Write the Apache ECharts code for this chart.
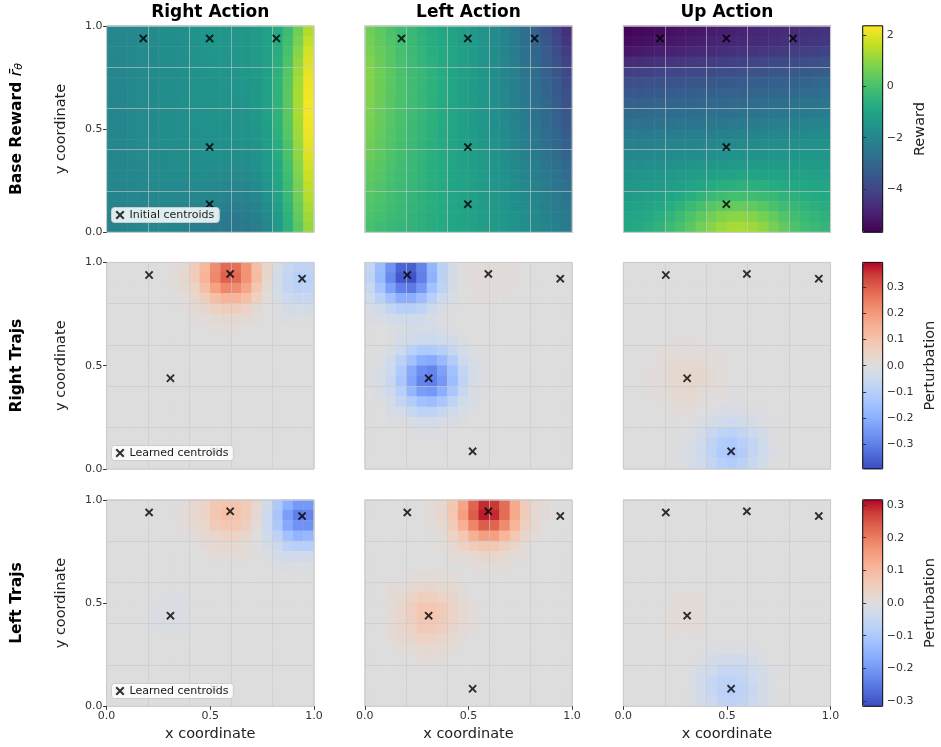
<!DOCTYPE html>
<html>
<head>
<meta charset="utf-8">
<script src="https://cdn.jsdelivr.net/npm/echarts@6/dist/echarts.min.js"></script>
<style>html,body{margin:0;padding:0;background:#fff}#c{width:941px;height:747px}</style>
</head>
<body>
<div id="c"></div>
<script>
// ---------------- DATA ----------------
const columnTitles = ['Right Action', 'Left Action', 'Up Action'];
const rowTitles = ['Base Reward', 'Right Trajs', 'Left Trajs'];
const axisTickValues = [0, 0.5, 1.0];
const rewardTickValues = [-4, -2, 0, 2];
const perturbationTickValues = [-0.3, -0.2, -0.1, 0, 0.1, 0.2, 0.3];
const rewardRange = [-5.69, 2.36];
const rightTrajsRange = [-0.393, 0.393];
const leftTrajsRange = [-0.316, 0.316];

const initialCentroidsX = [0.177, 0.497, 0.819, 0.497, 0.497];
const initialCentroidsY = [0.939, 0.939, 0.939, 0.413, 0.136];
const learnedCentroidsX = [0.205, 0.596, 0.943, 0.308, 0.520];
const learnedCentroidsY = [0.939, 0.944, 0.921, 0.439, 0.085];

// 20 x 20 cell values, rows listed from top (y=0.975) to bottom (y=0.025),
// columns from left (x=0.025) to right (x=0.975)
const rewardRightAction = [
[-1.95,-1.95,-1.95,-1.9,-1.85,-1.8,-1.75,-1.7,-1.6,-1.55,-1.5,-1.5,-1.5,-1.45,-1.35,-1.15,-0.8,-0.2,0.6,1.4],
[-1.95,-1.95,-1.95,-1.9,-1.85,-1.8,-1.75,-1.7,-1.6,-1.55,-1.5,-1.5,-1.5,-1.45,-1.35,-1.1,-0.75,-0.1,0.75,1.6],
[-1.95,-1.95,-1.95,-1.9,-1.85,-1.8,-1.75,-1.7,-1.6,-1.55,-1.5,-1.5,-1.5,-1.45,-1.35,-1.1,-0.7,0.0,0.9,1.8],
[-2.0,-1.95,-1.95,-1.9,-1.85,-1.8,-1.75,-1.7,-1.6,-1.55,-1.55,-1.55,-1.5,-1.45,-1.35,-1.1,-0.65,0.1,1.05,1.95],
[-2.0,-2.0,-1.95,-1.9,-1.85,-1.8,-1.75,-1.7,-1.65,-1.6,-1.55,-1.55,-1.55,-1.5,-1.35,-1.1,-0.6,0.2,1.15,2.05],
[-2.0,-2.0,-1.95,-1.9,-1.85,-1.8,-1.75,-1.7,-1.65,-1.6,-1.6,-1.55,-1.55,-1.5,-1.4,-1.1,-0.55,0.25,1.25,2.15],
[-2.0,-2.0,-1.95,-1.9,-1.85,-1.8,-1.75,-1.7,-1.65,-1.6,-1.6,-1.6,-1.55,-1.55,-1.4,-1.1,-0.5,0.3,1.3,2.2],
[-2.0,-2.0,-1.95,-1.9,-1.85,-1.8,-1.75,-1.7,-1.65,-1.6,-1.6,-1.6,-1.6,-1.55,-1.4,-1.1,-0.5,0.3,1.3,2.25],
[-2.0,-2.0,-1.95,-1.9,-1.85,-1.8,-1.75,-1.7,-1.65,-1.6,-1.6,-1.6,-1.6,-1.55,-1.4,-1.1,-0.5,0.3,1.3,2.25],
[-2.0,-2.0,-1.95,-1.9,-1.85,-1.8,-1.75,-1.7,-1.65,-1.65,-1.65,-1.65,-1.65,-1.6,-1.45,-1.15,-0.55,0.25,1.25,2.2],
[-2.0,-2.0,-1.95,-1.9,-1.85,-1.8,-1.75,-1.7,-1.7,-1.65,-1.65,-1.65,-1.65,-1.6,-1.5,-1.2,-0.6,0.2,1.2,2.15],
[-2.0,-2.0,-1.95,-1.9,-1.85,-1.8,-1.75,-1.75,-1.7,-1.7,-1.7,-1.7,-1.7,-1.65,-1.55,-1.25,-0.7,0.1,1.1,2.05],
[-2.0,-2.0,-1.95,-1.9,-1.85,-1.85,-1.8,-1.75,-1.75,-1.7,-1.7,-1.75,-1.75,-1.75,-1.6,-1.3,-0.75,0.05,1.0,1.95],
[-2.0,-2.0,-2.0,-1.95,-1.9,-1.85,-1.8,-1.8,-1.8,-1.75,-1.75,-1.8,-1.8,-1.8,-1.65,-1.35,-0.85,-0.05,0.9,1.8],
[-2.0,-2.0,-2.0,-1.95,-1.9,-1.85,-1.85,-1.85,-1.85,-1.8,-1.85,-1.9,-1.9,-1.9,-1.75,-1.45,-0.9,-0.15,0.8,1.7],
[-2.0,-2.0,-2.0,-1.95,-1.95,-1.9,-1.9,-1.9,-1.9,-1.9,-1.95,-2.0,-2.0,-2.0,-1.85,-1.55,-1.0,-0.25,0.7,1.55],
[-2.05,-2.05,-2.0,-2.0,-1.95,-1.95,-1.95,-1.95,-2.0,-2.0,-2.05,-2.1,-2.15,-2.1,-1.95,-1.65,-1.1,-0.35,0.6,1.45],
[-2.05,-2.05,-2.05,-2.0,-2.0,-2.0,-2.0,-2.0,-2.05,-2.1,-2.2,-2.25,-2.3,-2.25,-2.1,-1.75,-1.2,-0.45,0.5,1.3],
[-2.1,-2.1,-2.05,-2.0,-2.0,-2.0,-2.0,-2.05,-2.15,-2.2,-2.3,-2.4,-2.4,-2.35,-2.2,-1.9,-1.3,-0.55,0.4,1.2],
[-2.1,-2.1,-2.05,-2.0,-2.0,-2.0,-2.05,-2.1,-2.2,-2.3,-2.4,-2.5,-2.5,-2.45,-2.3,-2.0,-1.4,-0.6,0.3,1.1]
];
const rewardLeftAction = [
[0.6,0.35,0.1,-0.15,-0.35,-0.55,-0.75,-0.9,-1.05,-1.25,-1.4,-1.6,-1.85,-2.1,-2.45,-2.8,-3.2,-3.6,-4.1,-4.6],
[0.65,0.4,0.15,-0.1,-0.3,-0.5,-0.7,-0.85,-1.0,-1.2,-1.35,-1.57,-1.82,-2.08,-2.4,-2.75,-3.12,-3.5,-3.95,-4.45],
[0.72,0.45,0.2,-0.05,-0.25,-0.45,-0.65,-0.82,-1.0,-1.18,-1.33,-1.55,-1.8,-2.05,-2.35,-2.68,-3.03,-3.4,-3.8,-4.25],
[0.8,0.5,0.25,0.0,-0.2,-0.4,-0.6,-0.78,-0.97,-1.16,-1.31,-1.52,-1.77,-2.02,-2.3,-2.6,-2.94,-3.3,-3.67,-4.1],
[0.85,0.55,0.3,0.05,-0.15,-0.35,-0.55,-0.75,-0.95,-1.15,-1.3,-1.5,-1.75,-2.0,-2.25,-2.55,-2.85,-3.2,-3.55,-3.95],
[0.85,0.55,0.3,0.05,-0.15,-0.35,-0.55,-0.76,-0.96,-1.15,-1.3,-1.5,-1.74,-1.98,-2.22,-2.5,-2.8,-3.13,-3.46,-3.84],
[0.82,0.53,0.28,0.04,-0.16,-0.36,-0.56,-0.77,-0.97,-1.15,-1.3,-1.5,-1.73,-1.96,-2.2,-2.47,-2.75,-3.06,-3.37,-3.73],
[0.8,0.51,0.26,0.03,-0.17,-0.37,-0.57,-0.78,-0.98,-1.15,-1.3,-1.5,-1.72,-1.94,-2.17,-2.43,-2.7,-3.0,-3.29,-3.62],
[0.76,0.49,0.24,0.02,-0.18,-0.38,-0.58,-0.79,-0.99,-1.15,-1.3,-1.5,-1.71,-1.92,-2.14,-2.4,-2.65,-2.93,-3.2,-3.51],
[0.72,0.47,0.22,0.01,-0.19,-0.39,-0.59,-0.8,-1.0,-1.15,-1.3,-1.5,-1.7,-1.9,-2.12,-2.37,-2.62,-2.89,-3.15,-3.45],
[0.68,0.43,0.19,-0.02,-0.22,-0.41,-0.61,-0.8,-1.0,-1.14,-1.29,-1.48,-1.67,-1.87,-2.07,-2.31,-2.55,-2.8,-3.05,-3.34],
[0.6,0.38,0.15,-0.05,-0.25,-0.43,-0.62,-0.8,-0.99,-1.13,-1.27,-1.45,-1.63,-1.82,-2.02,-2.24,-2.47,-2.71,-2.95,-3.22],
[0.52,0.32,0.1,-0.09,-0.28,-0.45,-0.63,-0.8,-0.98,-1.12,-1.26,-1.42,-1.6,-1.78,-1.97,-2.17,-2.39,-2.62,-2.85,-3.1],
[0.44,0.26,0.05,-0.13,-0.31,-0.47,-0.64,-0.8,-0.97,-1.1,-1.24,-1.39,-1.56,-1.73,-1.92,-2.11,-2.32,-2.53,-2.74,-2.98],
[0.36,0.2,0.01,-0.17,-0.34,-0.49,-0.65,-0.8,-0.96,-1.09,-1.22,-1.36,-1.52,-1.68,-1.86,-2.04,-2.24,-2.44,-2.64,-2.86],
[0.29,0.14,-0.04,-0.21,-0.37,-0.51,-0.66,-0.8,-0.95,-1.07,-1.2,-1.33,-1.48,-1.63,-1.8,-1.97,-2.16,-2.35,-2.54,-2.74],
[0.22,0.08,-0.09,-0.25,-0.4,-0.53,-0.67,-0.8,-0.94,-1.05,-1.17,-1.3,-1.44,-1.59,-1.75,-1.91,-2.08,-2.26,-2.44,-2.62],
[0.15,0.02,-0.14,-0.29,-0.43,-0.55,-0.68,-0.8,-0.93,-1.04,-1.15,-1.27,-1.4,-1.54,-1.69,-1.84,-2.0,-2.17,-2.33,-2.5],
[0.08,-0.07,-0.22,-0.34,-0.46,-0.57,-0.69,-0.8,-0.91,-1.02,-1.12,-1.23,-1.35,-1.49,-1.64,-1.79,-1.95,-2.11,-2.27,-2.43],
[0.0,-0.15,-0.3,-0.4,-0.5,-0.6,-0.7,-0.8,-0.9,-1.0,-1.1,-1.2,-1.3,-1.45,-1.6,-1.75,-1.9,-2.05,-2.2,-2.35]
];
const rewardUpAction = [
[-5.6,-5.54,-5.47,-5.41,-5.35,-5.28,-5.22,-5.16,-5.09,-5.03,-4.97,-4.92,-4.87,-4.81,-4.76,-4.71,-4.66,-4.61,-4.55,-4.5],
[-5.45,-5.39,-5.32,-5.26,-5.2,-5.13,-5.07,-5.01,-4.94,-4.88,-4.83,-4.78,-4.73,-4.69,-4.64,-4.59,-4.54,-4.5,-4.45,-4.4],
[-5.2,-5.14,-5.07,-5.01,-4.95,-4.88,-4.82,-4.76,-4.69,-4.63,-4.57,-4.52,-4.47,-4.41,-4.36,-4.31,-4.26,-4.21,-4.15,-4.1],
[-4.7,-4.65,-4.59,-4.54,-4.49,-4.44,-4.38,-4.33,-4.28,-4.23,-4.17,-4.12,-4.07,-4.01,-3.96,-3.91,-3.86,-3.81,-3.75,-3.7],
[-4.2,-4.16,-4.12,-4.07,-4.03,-3.99,-3.95,-3.91,-3.86,-3.82,-3.77,-3.72,-3.67,-3.61,-3.56,-3.51,-3.46,-3.41,-3.35,-3.3],
[-3.8,-3.76,-3.73,-3.69,-3.65,-3.62,-3.58,-3.54,-3.51,-3.47,-3.43,-3.38,-3.33,-3.29,-3.24,-3.19,-3.14,-3.1,-3.05,-3.0],
[-3.5,-3.47,-3.44,-3.41,-3.37,-3.34,-3.31,-3.28,-3.25,-3.22,-3.18,-3.14,-3.1,-3.05,-3.01,-2.97,-2.93,-2.89,-2.84,-2.8],
[-3.2,-3.17,-3.15,-3.12,-3.09,-3.07,-3.04,-3.02,-2.99,-2.96,-2.93,-2.89,-2.85,-2.8,-2.76,-2.72,-2.68,-2.64,-2.59,-2.55],
[-2.95,-2.92,-2.9,-2.87,-2.84,-2.82,-2.79,-2.77,-2.74,-2.71,-2.68,-2.64,-2.6,-2.55,-2.51,-2.47,-2.43,-2.39,-2.34,-2.3],
[-2.7,-2.67,-2.65,-2.62,-2.59,-2.57,-2.54,-2.52,-2.49,-2.46,-2.43,-2.39,-2.35,-2.3,-2.26,-2.22,-2.18,-2.14,-2.09,-2.05],
[-2.45,-2.42,-2.4,-2.37,-2.34,-2.32,-2.29,-2.27,-2.24,-2.21,-2.18,-2.15,-2.11,-2.07,-2.03,-2.0,-1.96,-1.92,-1.89,-1.85],
[-2.2,-2.17,-2.15,-2.12,-2.09,-2.07,-2.04,-2.02,-1.99,-1.96,-1.93,-1.9,-1.87,-1.84,-1.8,-1.77,-1.74,-1.71,-1.68,-1.65],
[-2.0,-1.97,-1.94,-1.9,-1.87,-1.84,-1.81,-1.78,-1.74,-1.71,-1.68,-1.66,-1.63,-1.6,-1.57,-1.55,-1.52,-1.5,-1.47,-1.45],
[-1.8,-1.77,-1.73,-1.69,-1.65,-1.6,-1.55,-1.5,-1.45,-1.41,-1.38,-1.36,-1.35,-1.35,-1.34,-1.33,-1.32,-1.31,-1.3,-1.3],
[-1.6,-1.57,-1.53,-1.48,-1.42,-1.36,-1.29,-1.21,-1.13,-1.06,-1.02,-1.0,-1.0,-1.02,-1.05,-1.08,-1.1,-1.12,-1.14,-1.15],
[-1.45,-1.41,-1.36,-1.3,-1.22,-1.13,-1.02,-0.9,-0.78,-0.68,-0.62,-0.6,-0.62,-0.67,-0.74,-0.81,-0.87,-0.92,-0.96,-1.0],
[-1.3,-1.25,-1.18,-1.09,-0.97,-0.83,-0.66,-0.48,-0.3,-0.17,-0.1,-0.1,-0.14,-0.23,-0.35,-0.48,-0.6,-0.7,-0.78,-0.85],
[-1.15,-1.08,-0.99,-0.86,-0.7,-0.5,-0.27,-0.02,0.2,0.36,0.45,0.45,0.38,0.24,0.05,-0.15,-0.33,-0.48,-0.6,-0.7],
[-1.0,-0.92,-0.81,-0.65,-0.45,-0.21,0.07,0.36,0.63,0.83,0.94,0.95,0.86,0.68,0.44,0.17,-0.08,-0.28,-0.43,-0.55],
[-0.9,-0.81,-0.68,-0.5,-0.27,0.0,0.3,0.62,0.92,1.15,1.28,1.3,1.2,0.99,0.71,0.4,0.1,-0.14,-0.3,-0.4]
];
const rightTrajsRightAction = [
[0,0,0,0,0,0,0.01,0.02,0.07,0.13,0.22,0.28,0.27,0.21,0.11,0.04,-0.02,-0.06,-0.08,-0.08],
[0,0,0,0,0,0,0.01,0.03,0.07,0.14,0.23,0.29,0.28,0.21,0.12,0.03,-0.03,-0.07,-0.10,-0.09],
[0,0,0,0,0,0,0.01,0.02,0.05,0.11,0.18,0.23,0.22,0.17,0.09,0.02,-0.03,-0.07,-0.09,-0.08],
[0,0,0,0,0,0,0,0.01,0.03,0.07,0.11,0.14,0.14,0.11,0.06,0.01,-0.02,-0.05,-0.06,-0.06],
[0,0,0,0,0,0,0,0.01,0.02,0.03,0.06,0.07,0.07,0.05,0.02,0,-0.01,-0.03,-0.03,-0.03],
[0,0,0,0,0,0,0,0,0.01,0.01,0.02,0.03,0.03,0.02,0.01,0,-0.01,-0.01,-0.01,-0.01],
[0,0,0,0,0,0,0,0,0,0,0.01,0.01,0.01,0,0,0,0,0,0,0],
[0,0,0,0,0,0,0,0,0,0,0,0,0,0,0,0,0,0,0,0],
[0,0,0,0,0,0,0,0,0,0,0,0,0,0,0,0,0,0,0,0],
[0,0,0,0,0,0,0,0,0,0,0,0,0,0,0,0,0,0,0,0],
[0,0,0,0,0,0,0,0,0,0,0,0,0,0,0,0,0,0,0,0],
[0,0,0,0,0,0,0,0,0,0,0,0,0,0,0,0,0,0,0,0],
[0,0,0,0,0,0,0,0,0,0,0,0,0,0,0,0,0,0,0,0],
[0,0,0,0,0,0,0,0,0,0,0,0,0,0,0,0,0,0,0,0],
[0,0,0,0,0,0,0,0,0,0,0,0,0,0,0,0,0,0,0,0],
[0,0,0,0,0,0,0,0,0,0,0,0,0,0,0,0,0,0,0,0],
[0,0,0,0,0,0,0,0,0,0,0,0,0,0,0,0,0,0,0,0],
[0,0,0,0,0,0,0,0,0,0,0,0,0,0,0,0,0,0,0,0],
[0,0,0,0,0,0,0,0,0,0,0,0,0,0,0,0,0,0,0,0],
[0,0,0,0,0,0,0,0,0,0,0,0,0,0,0,0,0,0,0,0]
];
const rightTrajsLeftAction = [
[-0.07,-0.16,-0.26,-0.35,-0.36,-0.29,-0.18,-0.09,-0.03,0,0.01,0.01,0.01,0.01,0.01,0,0,0,0,0],
[-0.08,-0.17,-0.28,-0.37,-0.38,-0.30,-0.19,-0.09,-0.03,0,0.01,0.01,0.01,0.01,0.01,0,0,0,0,0],
[-0.06,-0.14,-0.23,-0.30,-0.31,-0.25,-0.15,-0.08,-0.03,0,0.01,0.01,0.01,0.01,0,0,0,0,0,0],
[-0.04,-0.09,-0.15,-0.20,-0.20,-0.16,-0.10,-0.05,-0.02,0,0.01,0.01,0.01,0,0,0,0,0,0,0],
[-0.02,-0.04,-0.07,-0.10,-0.10,-0.08,-0.05,-0.02,-0.01,0,0,0,0,0,0,0,0,0,0,0],
[-0.01,-0.02,-0.03,-0.04,-0.04,-0.04,-0.02,-0.01,0,0,0,0,0,0,0,0,0,0,0,0],
[0,0,-0.01,-0.02,-0.03,-0.03,-0.03,-0.02,-0.01,0,0,0,0,0,0,0,0,0,0,0],
[0,0,-0.01,-0.03,-0.04,-0.05,-0.05,-0.04,-0.03,-0.01,0,0,0,0,0,0,0,0,0,0],
[0,-0.01,-0.02,-0.05,-0.09,-0.12,-0.12,-0.10,-0.06,-0.03,-0.01,0,0,0,0,0,0,0,0,0],
[0,-0.01,-0.04,-0.09,-0.15,-0.20,-0.21,-0.17,-0.11,-0.05,-0.02,-0.01,0,0,0,0,0,0,0,0],
[-0.01,-0.02,-0.05,-0.12,-0.21,-0.27,-0.29,-0.23,-0.15,-0.07,-0.03,-0.01,0,0,0,0,0,0,0,0],
[-0.01,-0.02,-0.06,-0.13,-0.22,-0.29,-0.30,-0.25,-0.16,-0.08,-0.03,-0.01,0,0,0,0,0,0,0,0],
[0,-0.02,-0.05,-0.10,-0.18,-0.24,-0.25,-0.20,-0.13,-0.06,-0.02,-0.01,0,0,0,0,0,0,0,0],
[0,-0.01,-0.03,-0.07,-0.11,-0.15,-0.16,-0.13,-0.08,-0.04,-0.02,0,0,0,0,0,0,0,0,0],
[0,0,-0.02,-0.03,-0.06,-0.08,-0.08,-0.06,-0.04,-0.02,-0.01,0,0,0,0,0,0,0,0,0],
[0,0,-0.01,-0.01,-0.02,-0.03,-0.03,-0.02,-0.02,-0.01,0,0,0,0,0,0,0,0,0,0],
[0,0,0,0,-0.01,-0.01,-0.01,-0.01,0,0,0,0,0,0,0,0,0,0,0,0],
[0,0,0,0,0,0,0,0,0,0,0,0,0,0,0,0,0,0,0,0],
[0,0,0,0,0,0,0,0,0,0,0,0,0,0,0,0,0,0,0,0],
[0,0,0,0,0,0,0,0,0,0,0,0,0,0,0,0,0,0,0,0]
];
const rightTrajsUpAction = [
[0,0,0,0,0,0,0,0,0,0,0,0,0,0,0,0,0,0,0,0],
[0,0,0,0,0,0,0,0,0,0,0,0,0,0,0,0,0,0,0,0],
[0,0,0,0,0,0,0,0,0,0,0,0,0,0,0,0,0,0,0,0],
[0,0,0,0,0,0,0,0,0,0,0,0,0,0,0,0,0,0,0,0],
[0,0,0,0,0,0,0,0,0,0,0,0,0,0,0,0,0,0,0,0],
[0,0,0,0,0,0,0,0,0,0,0,0,0,0,0,0,0,0,0,0],
[0,0,0,0,0,0,0,0,0,0,0,0,0,0,0,0,0,0,0,0],
[0,0,0,0,0,0.01,0.01,0,0,0,0,0,0,0,0,0,0,0,0,0],
[0,0,0,0.01,0.01,0.01,0.01,0.01,0.01,0,0,0,0,0,0,0,0,0,0,0],
[0,0,0,0.01,0.02,0.02,0.02,0.02,0.01,0.01,0,0,0,0,0,0,0,0,0,0],
[0,0,0.01,0.01,0.02,0.03,0.03,0.03,0.02,0.01,0,0,0,0,0,0,0,0,0,0],
[0,0,0.01,0.01,0.02,0.03,0.03,0.03,0.02,0.01,0,0,0,0,0,0,0,0,0,0],
[0,0,0.01,0.01,0.02,0.03,0.03,0.02,0.01,0.01,0,0,0,0,0,0,0,0,0,0],
[0,0,0,0.01,0.01,0.02,0.02,0.01,0,0,-0.01,-0.01,0,0,0,0,0,0,0,0],
[0,0,0,0,0.01,0.01,0.01,0,-0.01,-0.02,-0.02,-0.02,-0.01,-0.01,0,0,0,0,0,0],
[0,0,0,0,0,0,0,-0.02,-0.03,-0.04,-0.05,-0.04,-0.03,-0.01,-0.01,0,0,0,0,0],
[0,0,0,0,0,0,-0.01,-0.03,-0.06,-0.08,-0.09,-0.07,-0.05,-0.03,-0.01,0,0,0,0,0],
[0,0,0,0,0,-0.01,-0.02,-0.04,-0.08,-0.11,-0.12,-0.10,-0.07,-0.04,-0.01,0,0,0,0,0],
[0,0,0,0,0,-0.01,-0.02,-0.05,-0.08,-0.12,-0.13,-0.11,-0.07,-0.04,-0.02,-0.01,0,0,0,0],
[0,0,0,0,0,-0.01,-0.02,-0.04,-0.07,-0.10,-0.11,-0.09,-0.06,-0.03,-0.01,0,0,0,0,0]
];
const leftTrajsRightAction = [
[0,0,0,0,0,0,0,0.01,0.02,0.04,0.07,0.08,0.08,0.06,0.02,-0.03,-0.10,-0.16,-0.20,-0.20],
[0,0,0,0,0,0,0,0.01,0.02,0.04,0.07,0.09,0.08,0.06,0.02,-0.04,-0.11,-0.19,-0.24,-0.23],
[0,0,0,0,0,0,0,0.01,0.02,0.03,0.06,0.07,0.07,0.05,0.01,-0.04,-0.10,-0.17,-0.21,-0.21],
[0,0,0,0,0,0,0,0,0.01,0.02,0.03,0.04,0.04,0.03,0,-0.03,-0.07,-0.12,-0.15,-0.14],
[0,0,0,0,0,0,0,0,0,0.01,0.02,0.02,0.02,0.01,0,-0.02,-0.04,-0.07,-0.08,-0.08],
[0,0,0,0,0,0,0,0,0,0,0.01,0.01,0.01,0.01,0,-0.01,-0.02,-0.03,-0.03,-0.03],
[0,0,0,0,0,0,0,0,0,0,0,0,0,0,0,0,-0.01,-0.01,-0.01,-0.01],
[0,0,0,0,0,0,0,0,0,0,0,0,0,0,0,0,0,0,0,0],
[0,0,0,0,0,0,0,0,0,0,0,0,0,0,0,0,0,0,0,0],
[0,0,0,0,0,-0.01,-0.01,-0.01,0,0,0,0,0,0,0,0,0,0,0,0],
[0,0,0,0,-0.01,-0.01,-0.01,-0.01,0,0,0,0,0,0,0,0,0,0,0,0],
[0,0,0,0,-0.01,-0.01,-0.01,-0.01,0,0,0,0,0,0,0,0,0,0,0,0],
[0,0,0,0,-0.01,-0.01,-0.01,-0.01,0,0,0,0,0,0,0,0,0,0,0,0],
[0,0,0,0,0,0,0,0,0,0,0,0,0,0,0,0,0,0,0,0],
[0,0,0,0,0,0,0,0,0,0,0,0,0,0,0,0,0,0,0,0],
[0,0,0,0,0,0,0,0,0,0,0,0,0,0,0,0,0,0,0,0],
[0,0,0,0,0,0,0,0,0,0,0,0,0,0,0,0,0,0,0,0],
[0,0,0,0,0,0,0,0,0,0,0,0,0,0,0,0,0,0,0,0],
[0,0,0,0,0,0,0,0,0,0,0,0,0,0,0,0,0,0,0,0],
[0,0,0,0,0,0,0,0,0,0,0,0,0,0,0,0,0,0,0,0]
];
const leftTrajsLeftAction = [
[0,0,0,0,0,0,0.01,0.03,0.07,0.14,0.23,0.29,0.28,0.22,0.13,0.06,0.02,0.01,0,0],
[0,0,0,0,0,0,0.01,0.03,0.07,0.15,0.24,0.30,0.29,0.22,0.13,0.06,0.02,0.01,0,0],
[0,0,0,0,0,0,0.01,0.02,0.06,0.12,0.19,0.24,0.23,0.18,0.11,0.05,0.02,0,0,0],
[0,0,0,0,0,0,0,0.01,0.04,0.07,0.12,0.15,0.15,0.11,0.07,0.03,0.01,0,0,0],
[0,0,0,0,0,0,0,0.01,0.02,0.04,0.06,0.07,0.07,0.05,0.03,0.01,0,0,0,0],
[0,0,0,0,0,0,0,0,0.01,0.01,0.02,0.03,0.03,0.02,0.01,0.01,0,0,0,0],
[0,0,0,0,0,0,0,0,0,0,0.01,0.01,0.01,0.01,0,0,0,0,0,0],
[0,0,0,0,0.01,0.01,0.01,0.01,0.01,0,0,0,0,0,0,0,0,0,0,0],
[0,0,0.01,0.01,0.02,0.03,0.03,0.02,0.02,0.01,0,0,0,0,0,0,0,0,0,0],
[0,0,0.01,0.02,0.04,0.05,0.05,0.04,0.03,0.01,0,0,0,0,0,0,0,0,0,0],
[0,0,0.01,0.03,0.05,0.07,0.07,0.06,0.04,0.02,0.01,0,0,0,0,0,0,0,0,0],
[0,0,0.01,0.03,0.05,0.07,0.07,0.06,0.04,0.02,0.01,0,0,0,0,0,0,0,0,0],
[0,0,0.01,0.03,0.04,0.06,0.06,0.05,0.03,0.01,0.01,0,0,0,0,0,0,0,0,0],
[0,0,0.01,0.02,0.03,0.04,0.04,0.03,0.02,0.01,0,0,0,0,0,0,0,0,0,0],
[0,0,0,0.01,0.01,0.02,0.02,0.02,0.01,0,0,0,0,0,0,0,0,0,0,0],
[0,0,0,0,0,0.01,0.01,0.01,0,0,0,0,0,0,0,0,0,0,0,0],
[0,0,0,0,0,0,0,0,0,0,0,0,0,0,0,0,0,0,0,0],
[0,0,0,0,0,0,0,0,0,0,0,0,0,0,0,0,0,0,0,0],
[0,0,0,0,0,0,0,0,0,0,0,0,0,0,0,0,0,0,0,0],
[0,0,0,0,0,0,0,0,0,0,0,0,0,0,0,0,0,0,0,0]
];
const leftTrajsUpAction = [
[0,0,0,0,0,0,0,0,0,0,0,0,0,0,0,0,0,0,0,0],
[0,0,0,0,0,0,0,0,0,0,0,0,0,0,0,0,0,0,0,0],
[0,0,0,0,0,0,0,0,0,0,0,0,0,0,0,0,0,0,0,0],
[0,0,0,0,0,0,0,0,0,0,0,0,0,0,0,0,0,0,0,0],
[0,0,0,0,0,0,0,0,0,0,0,0,0,0,0,0,0,0,0,0],
[0,0,0,0,0,0,0,0,0,0,0,0,0,0,0,0,0,0,0,0],
[0,0,0,0,0,0,0,0,0,0,0,0,0,0,0,0,0,0,0,0],
[0,0,0,0,0,0,0,0,0,0,0,0,0,0,0,0,0,0,0,0],
[0,0,0,0,0,0,0,0,0,0,0,0,0,0,0,0,0,0,0,0],
[0,0,0,0,0,0.01,0.01,0.01,0,0,0,0,0,0,0,0,0,0,0,0],
[0,0,0,0,0.01,0.01,0.01,0.01,0,0,0,0,0,0,0,0,0,0,0,0],
[0,0,0,0,0.01,0.01,0.01,0.01,0,0,0,0,0,0,0,0,0,0,0,0],
[0,0,0,0,0.01,0.01,0.01,0.01,0,0,0,0,0,0,0,0,0,0,0,0],
[0,0,0,0,0,0,0,0,0,0,0,0,0,0,0,0,0,0,0,0],
[0,0,0,0,0,0,0,0,-0.01,-0.01,-0.01,-0.01,-0.01,0,0,0,0,0,0,0],
[0,0,0,0,0,0,0,-0.01,-0.02,-0.03,-0.03,-0.03,-0.02,-0.01,0,0,0,0,0,0],
[0,0,0,0,0,0,-0.01,-0.02,-0.03,-0.05,-0.05,-0.05,-0.03,-0.02,-0.01,0,0,0,0,0],
[0,0,0,0,0,0,-0.01,-0.03,-0.05,-0.07,-0.07,-0.06,-0.04,-0.02,-0.01,0,0,0,0,0],
[0,0,0,0,0,0,-0.01,-0.03,-0.05,-0.07,-0.08,-0.07,-0.05,-0.02,-0.01,0,0,0,0,0],
[0,0,0,0,0,0,-0.01,-0.02,-0.04,-0.06,-0.07,-0.06,-0.04,-0.02,-0.01,0,0,0,0,0]
];

// ---------------- STYLE / LAYOUT ----------------
const FONT = 'DejaVu Sans';
const VIRIDIS = ['#440154','#482475','#414487','#355f8d','#2a788e','#21918c','#22a884','#44bf70','#7ad151','#bddf26','#fde725'];
const COOLWARM = ['rgb(59,76,192)','rgb(77,104,215)','rgb(98,130,234)','rgb(119,154,247)','rgb(141,176,254)','rgb(163,194,255)','rgb(184,208,249)','rgb(204,217,238)','rgb(221,221,221)','rgb(236,211,197)','rgb(245,196,173)','rgb(247,177,148)','rgb(244,154,123)','rgb(236,127,99)','rgb(222,96,77)','rgb(203,62,56)','rgb(180,4,38)'];
const X_MARK = 'path://M1.6,0L5,3.4L8.4,0L10,1.6L6.6,5L10,8.4L8.4,10L5,6.6L1.6,10L0,8.4L3.4,5L0,1.6Z';
const colLeft = [106.6, 364.8, 623.3];
const rowTop = [25.8, 262.4, 499.8];
const panelW = 207.3, panelH = 206.5;
const cbLeft = 862.7, cbW = 20;

const fields = [
  [rewardRightAction, rewardLeftAction, rewardUpAction],
  [rightTrajsRightAction, rightTrajsLeftAction, rightTrajsUpAction],
  [leftTrajsRightAction, leftTrajsLeftAction, leftTrajsUpAction]
];
const ranges = [rewardRange, rightTrajsRange, leftTrajsRange];

function toCells(rows) {
  const out = [];
  const n = rows.length;
  rows.forEach((row, r) => row.forEach((v, i) => out.push([i, n - 1 - r, v])));
  return out;
}
const minusFmt = (s) => s.replace('-', '\u2212');
const nCells = rewardRightAction[0].length;
const cats = Array.from({length: nCells}, (_, i) => i);

const grid = [], xAxis = [], yAxis = [], series = [], visualMap = [], legend = [], graphic = [];
const heatIdx = [[], [], []];

for (let R = 0; R < 3; R++) {
  for (let C = 0; C < 3; C++) {
    const g = grid.length;
    grid.push({left: colLeft[C], top: rowTop[R], width: panelW, height: panelH,
      show: true, borderColor: '#cccccc', borderWidth: 1, backgroundColor: 'transparent', z: 5});
    const xa = xAxis.length, ya = yAxis.length;
    xAxis.push({gridIndex: g, type: 'category', data: cats, show: false});
    yAxis.push({gridIndex: g, type: 'category', data: cats, show: false});
    const gl = {show: true, lineStyle: {color: 'rgba(200,200,200,0.6)', width: 1}};
    xAxis.push({gridIndex: g, type: 'value', min: 0, max: 1, interval: 0.2, z: 4,
      axisLine: {show: false}, axisTick: {show: false}, axisLabel: {show: false}, splitLine: gl});
    yAxis.push({gridIndex: g, type: 'value', min: 0, max: 1, interval: 0.2, z: 4,
      axisLine: {show: false}, axisTick: {show: false}, axisLabel: {show: false}, splitLine: gl});
    xAxis.push({gridIndex: g, type: 'value', min: 0, max: 1, position: 'bottom', z: 6,
      axisLine: {show: false}, splitLine: {show: false},
      axisTick: {show: R === 2, length: 3.5, customValues: axisTickValues, lineStyle: {color: '#333'}},
      axisLabel: {show: R === 2, customValues: axisTickValues, formatter: (v) => v.toFixed(1),
        fontSize: 11, color: '#333', margin: 4, fontFamily: FONT},
      name: R === 2 ? 'x coordinate' : '', nameLocation: 'middle', nameGap: 20,
      nameTextStyle: {fontSize: 14.5, color: '#222', fontFamily: FONT}});
    yAxis.push({gridIndex: g, type: 'value', min: 0, max: 1, position: 'left', z: 6,
      axisLine: {show: false}, splitLine: {show: false},
      axisTick: {show: C === 0, length: 3.5, customValues: axisTickValues, lineStyle: {color: '#333'}},
      axisLabel: {show: C === 0, customValues: axisTickValues, formatter: (v) => v.toFixed(1),
        fontSize: 11, color: '#333', margin: 4, fontFamily: FONT},
      name: C === 0 ? 'y coordinate' : '', nameLocation: 'middle', nameGap: 38,
      nameTextStyle: {fontSize: 14.5, color: '#222', fontFamily: FONT}});
    series.push({type: 'heatmap', xAxisIndex: xa, yAxisIndex: ya, data: toCells(fields[R][C]),
      z: 2, silent: true, emphasis: {disabled: true}, progressive: 0});
    heatIdx[R].push(series.length - 1);
    const cx = R === 0 ? initialCentroidsX : learnedCentroidsX;
    const cy = R === 0 ? initialCentroidsY : learnedCentroidsY;
    series.push({type: 'scatter', name: R === 0 ? 'Initial centroids' : 'Learned centroids',
      xAxisIndex: xa + 1, yAxisIndex: ya + 1, data: cx.map((x, k) => [x, cy[k]]),
      symbol: X_MARK, symbolSize: 8.5, itemStyle: {color: '#000'}, z: 10, silent: true});
  }
}

// colorbars
const cbNames = ['Reward', 'Perturbation', 'Perturbation'];
const cbGaps = [30, 40, 40];
for (let R = 0; R < 3; R++) {
  const g = grid.length;
  grid.push({left: cbLeft, top: rowTop[R], width: cbW, height: panelH, show: true,
    borderColor: '#000', borderWidth: 1, backgroundColor: 'transparent', z: 10});
  xAxis.push({gridIndex: g, type: 'value', min: 0, max: 1, show: false});
  const ticks = R === 0 ? rewardTickValues : perturbationTickValues;
  yAxis.push({gridIndex: g, type: 'value', position: 'right', min: ranges[R][0], max: ranges[R][1], z: 11,
    axisLine: {show: false}, splitLine: {show: false},
    axisTick: {show: true, length: 3.5, customValues: ticks, lineStyle: {color: '#333'}},
    axisLabel: {customValues: ticks, fontSize: 11, color: '#333', margin: 4, fontFamily: FONT,
      formatter: (v) => R === 0 ? minusFmt(String(Math.round(v))) : minusFmt((Math.abs(v) < 1e-9 ? 0 : v).toFixed(1))},
    name: cbNames[R], nameLocation: 'middle', nameRotate: 90, nameGap: cbGaps[R],
    nameTextStyle: {fontSize: 14.5, color: '#222', fontFamily: FONT}});
  visualMap.push({type: 'continuous', min: ranges[R][0], max: ranges[R][1], seriesIndex: heatIdx[R],
    left: cbLeft, top: rowTop[R], itemWidth: cbW, itemHeight: panelH, calculable: false,
    padding: 0, hoverLink: false, inRange: {color: R === 0 ? VIRIDIS : COOLWARM}});
}

// legends
const legendTops = [207.5, 445.5, 683.5];
for (let R = 0; R < 3; R++) {
  legend.push({data: [R === 0 ? 'Initial centroids' : 'Learned centroids'], left: 111.5, top: legendTops[R],
    orient: 'horizontal', padding: [2, 5, 2, 4], itemWidth: 9, itemHeight: 9, icon: X_MARK,
    backgroundColor: 'rgba(255,255,255,0.85)', borderColor: '#cccccc', borderWidth: 1, borderRadius: 3,
    selectedMode: false, z: 20, textStyle: {fontSize: 11, color: '#1a1a1a', fontFamily: FONT}});
}

// titles and row labels
columnTitles.forEach((t, C) => graphic.push({type: 'text', x: colLeft[C] + panelW / 2, y: 13, z: 20,
  style: {text: t, font: 'bold 17px "DejaVu Sans"', fill: '#000', align: 'center', verticalAlign: 'middle'}}));
rowTitles.forEach((t, R) => graphic.push({type: 'text', x: 17, y: rowTop[R] + panelH / 2, rotation: Math.PI / 2, z: 20,
  style: {text: R === 0 ? t + ' {m|r\u0304}{s|\u03b8}' : t, font: 'bold 15.5px "DejaVu Sans"', fill: '#000',
    align: 'center', verticalAlign: 'middle',
    rich: {m: {font: 'italic 16px "DejaVu Sans"', fill: '#000'}, s: {font: 'italic 11px "DejaVu Sans"', fill: '#000', verticalAlign: 'bottom'}}}}));

const chart = echarts.init(document.getElementById('c'));
chart.setOption({animation: false, backgroundColor: '#fff', grid, xAxis, yAxis, series, visualMap, legend, graphic});
</script>
</body>
</html>
